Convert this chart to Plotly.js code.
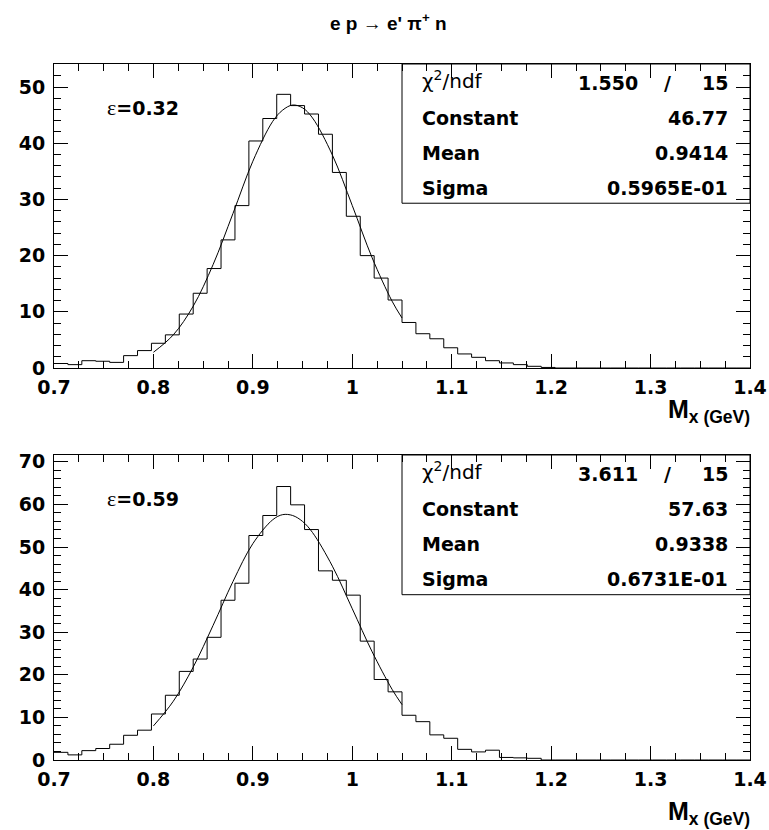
<!DOCTYPE html>
<html>
<head>
<meta charset="utf-8">
<script src="https://cdn.plot.ly/plotly-3.0.1.min.js"></script>
<style>html,body{margin:0;padding:0;background:#fff;}</style>
</head>
<body>
<div id="chart" style="width:769px;height:830px;"></div>
<script>
// ---- data ----
const binStart = 0.7;
const binWidth = 0.014;
const countsTop = [0.8,0.6,1.3,1.2,1.0,2.2,3.1,4.4,5.9,9.6,13.3,17.7,22.8,28.9,40.4,44.4,48.7,46.7,45.2,41.6,34.8,27.0,20.0,16.0,12.1,8.1,6.1,5.2,3.6,2.5,1.9,1.3,0.9,0.6,0.3,0.1,0,0,0,0,0,0,0,0,0,0,0,0,0,0];
const countsBot = [1.8,1.2,2.2,2.7,3.7,5.8,7.0,10.8,15.2,20.8,23.7,28.8,37.5,41.5,52.7,57.4,64.2,59.9,54.1,44.4,42.2,38.7,27.9,18.9,16.0,10.5,9.0,5.9,5.1,2.5,1.9,2.3,0.6,0.5,0.4,0,0,0,0,0,0,0,0,0,0,0,0,0,0,0];
const fitX   = [0.80,0.82,0.84,0.86,0.88,0.90,0.92,0.93,0.94,0.95,0.96,0.98,1.00,1.02,1.04,1.05];
const fitTop = [2.8,5.9,11.0,18.4,27.5,36.8,43.9,45.9,46.8,46.3,44.5,37.9,28.9,19.6,11.9,8.9];
const fitBot = [8.0,13.8,21.8,31.6,41.9,50.8,56.4,57.6,57.4,56.0,53.4,45.5,35.5,25.4,16.6,13.0];
const epsLabels = ["0.32","0.59"];
const chiTop = ["1.550","15"], chiBot = ["3.611","15"];
const parNames = ["Constant","Mean","Sigma"];
const parTop = ["46.77","0.9414","0.5965E-01"];
const parBot = ["57.63","0.9338","0.6731E-01"];
const xTickVals = [0.7,0.8,0.9,1.0,1.1,1.2,1.3,1.4];
const xTickText = ["0.7","0.8","0.9","1","1.1","1.2","1.3","1.4"];

// histogram step coordinates
function stepXY(counts){
  const xs=[], ys=[];
  for(let i=0;i<counts.length;i++){ xs.push(binStart+i*binWidth); ys.push(counts[i]); }
  xs.push(binStart+counts.length*binWidth); ys.push(counts[counts.length-1]);
  return {xs, ys};
}
const hT = stepXY(countsTop), hB = stepXY(countsBot);

const traces = [
  {x:hT.xs, y:hT.ys, xaxis:'x', yaxis:'y', mode:'lines', line:{shape:'hv', color:'#000', width:1}, hoverinfo:'skip'},
  {x:fitX, y:fitTop, xaxis:'x', yaxis:'y', mode:'lines', line:{shape:'spline', smoothing:1, color:'#000', width:1}, hoverinfo:'skip'},
  {x:hB.xs, y:hB.ys, xaxis:'x2', yaxis:'y2', mode:'lines', line:{shape:'hv', color:'#000', width:1}, hoverinfo:'skip'},
  {x:fitX, y:fitBot, xaxis:'x2', yaxis:'y2', mode:'lines', line:{shape:'spline', smoothing:1, color:'#000', width:1}, hoverinfo:'skip'}
];

const tickFont = {family:'DejaVu Sans', size:19, color:'#000', weight:'bold'};
function xAx(anchor){
  return {domain:[54/769, 750/769], range:[0.7,1.4], anchor:anchor, showgrid:false, zeroline:false,
    showline:true, linecolor:'#000', linewidth:1, mirror:'allticks', ticks:'inside', ticklen:14, tickwidth:1, tickcolor:'#000',
    tickvals:xTickVals, ticktext:xTickText, tickfont:tickFont, ticklabelstandoff:2,
    minor:{dtick:0.025, tick0:0.7, ticks:'inside', ticklen:7, tickwidth:1, tickcolor:'#000', showgrid:false},
    fixedrange:true, automargin:false};
}
function yAx(anchor, dom, top){
  return {domain:dom, range:[0,top], anchor:anchor, showgrid:false, zeroline:false,
    showline:true, linecolor:'#000', linewidth:1, mirror:'allticks', ticks:'inside', ticklen:14, tickwidth:1, tickcolor:'#000',
    dtick:10, tick0:0, tickfont:tickFont, ticklabelstandoff:4,
    minor:{dtick:2, ticks:'inside', ticklen:7, tickwidth:1, tickcolor:'#000', showgrid:false},
    fixedrange:true, automargin:false};
}

const statFont = {family:'DejaVu Sans', size:19, color:'#000', weight:'bold'};
const annotations = [];
const shapes = [];
function addPanel(xr, yr, eps, chi, pars){
  const xd = xr+' domain', yd = yr+' domain';
  shapes.push({type:'rect', xref:xd, yref:yd, x0:0.5, x1:1, y0:0.542, y1:1, line:{color:'#000', width:1}, fillcolor:'rgba(0,0,0,0)', layer:'above'});
  const rows = [0.937, 0.822, 0.707, 0.592];
  annotations.push({xref:xd, yref:yd, x:0.526, y:rows[0]+0.01, xanchor:'left', yanchor:'middle', showarrow:false,
    text:'χ<sup>2</sup>/ndf', font:{family:'DejaVu Sans', size:20, color:'#000'}});
  annotations.push({xref:xd, yref:yd, x:0.842, y:rows[0], xanchor:'right', yanchor:'middle', showarrow:false, text:chi[0], font:statFont});
  annotations.push({xref:xd, yref:yd, x:0.882, y:rows[0], xanchor:'center', yanchor:'middle', showarrow:false, text:'/', font:statFont});
  annotations.push({xref:xd, yref:yd, x:0.971, y:rows[0], xanchor:'right', yanchor:'middle', showarrow:false, text:chi[1], font:statFont});
  for(let i=0;i<3;i++){
    annotations.push({xref:xd, yref:yd, x:0.526, y:rows[i+1], xanchor:'left', yanchor:'middle', showarrow:false, text:parNames[i], font:statFont});
    annotations.push({xref:xd, yref:yd, x:0.971, y:rows[i+1], xanchor:'right', yanchor:'middle', showarrow:false, text:pars[i], font:statFont});
  }
  annotations.push({xref:xd, yref:yd, x:0.073, y:0.858, xanchor:'left', yanchor:'middle', showarrow:false,
    text:'<span style="font-family:Liberation Serif;font-weight:normal;font-size:22px">ε</span>=' + eps, font:statFont});
}
addPanel('x','y',epsLabels[0],chiTop,parTop);
addPanel('x2','y2',epsLabels[1],chiBot,parBot);

// axis titles
annotations.push({xref:'paper', yref:'paper', x:752/769, y:1-393/830, xanchor:'right', yanchor:'top', showarrow:false,
  text:'<b>M<sub>x (GeV)</sub></b>', font:{family:'Liberation Sans', size:25, color:'#000'}});
annotations.push({xref:'paper', yref:'paper', x:752/769, y:1-795/830, xanchor:'right', yanchor:'top', showarrow:false,
  text:'<b>M<sub>x (GeV)</sub></b>', font:{family:'Liberation Sans', size:25, color:'#000'}});
// main title
annotations.push({xref:'paper', yref:'paper', x:0.505, y:1-22/830, xanchor:'center', yanchor:'middle', showarrow:false,
  text:'<b>e p → e\' π<sup>+</sup> n</b>',
  font:{family:'Liberation Sans', size:19, color:'#000'}});

const layout = {
  width:769, height:830, margin:{l:0,r:0,t:0,b:0}, paper_bgcolor:'#fff', plot_bgcolor:'#fff', showlegend:false,
  xaxis:xAx('y'), yaxis:yAx('x',[1-368/830, 1-64/830], 54.1),
  xaxis2:xAx('y2'), yaxis2:yAx('x2',[1-760/830, 1-455/830], 71.6),
  annotations:annotations, shapes:shapes
};
Plotly.newPlot('chart', traces, layout, {staticPlot:true, displayModeBar:false});
</script>
</body>
</html>
